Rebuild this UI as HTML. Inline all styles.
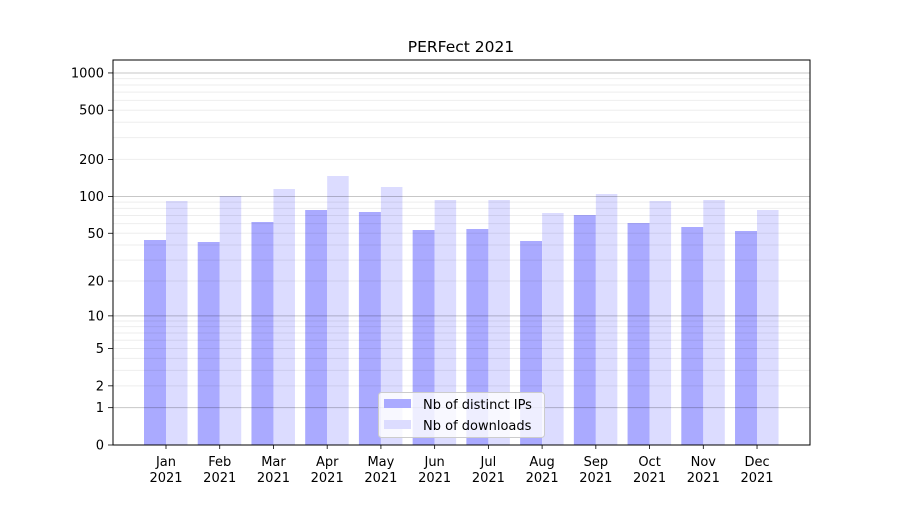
<!DOCTYPE html>
<html><head><meta charset="utf-8"><style>
html,body{margin:0;padding:0;background:#fff;}
svg text{font-family:"DejaVu Sans","Liberation Sans",sans-serif;fill:#000;}
</style></head><body>
<svg id="s" width="900" height="500" xmlns="http://www.w3.org/2000/svg"></svg>
<script>
var s=document.getElementById('s'),h='';
function Y(v){return 445-124*Math.log10(1+v);}
var dark=[240,242,222,210,212,230,229,241,215,223,227,231];
var light=[201,196,189,176,187,200,200,213,194,201,200,210];
var mon=['Jan','Feb','Mar','Apr','May','Jun','Jul','Aug','Sep','Oct','Nov','Dec'];
for(var i=0;i<12;i++){
 var c=166+i*53.73;
 h+='<rect x="'+(c-22)+'" y="'+dark[i]+'" width="22" height="'+(445-dark[i])+'" fill="#aaaaff"/>';
 h+='<rect x="'+c+'" y="'+light[i]+'" width="21.5" height="'+(445-light[i])+'" fill="#dcdcff"/>';
 h+='<line x1="'+c+'" x2="'+c+'" y1="445" y2="449" stroke="#000" stroke-width="0.8"/>';
 h+='<text x="'+c+'" y="466" font-size="13" text-anchor="middle">'+mon[i]+'</text>';
 h+='<text x="'+c+'" y="482" font-size="13" text-anchor="middle">2021</text>';
}
var minors=[2,3,4,5,6,7,8,9,20,30,40,50,60,70,80,90,200,300,400,500,600,700,800,900];
minors.forEach(function(v){var y=Y(v);h+='<line x1="113" x2="810" y1="'+y+'" y2="'+y+'" stroke="#000" stroke-opacity="0.07" stroke-width="1"/>';});
[1,10,100,1000].forEach(function(v){var y=Y(v);h+='<line x1="113" x2="810" y1="'+y+'" y2="'+y+'" stroke="#000" stroke-opacity="0.22" stroke-width="1"/>';});
[[0,'0'],[1,'1'],[2,'2'],[5,'5'],[10,'10'],[20,'20'],[50,'50'],[100,'100'],[200,'200'],[500,'500'],[1000,'1000']].forEach(function(t){
 var y=Y(t[0]);h+='<line x1="108" x2="113" y1="'+y+'" y2="'+y+'" stroke="#000" stroke-width="0.8"/>';
 h+='<text x="104" y="'+(y+4.5)+'" font-size="13" text-anchor="end">'+t[1]+'</text>';});
h+='<rect x="113" y="60" width="697" height="385" fill="none" stroke="#000" stroke-width="1"/>';
h+='<text x="461" y="52" font-size="15.5" text-anchor="middle">PERFect 2021</text>';
h+='<rect x="378.5" y="392.5" width="166" height="45" rx="3" fill="#fff" fill-opacity="0.8" stroke="#ccc"/>';
h+='<rect x="384" y="399" width="27" height="9" fill="#aaaaff"/>';
h+='<rect x="384" y="420" width="27" height="9" fill="#dcdcff"/>';
h+='<text x="423" y="409" font-size="13">Nb of distinct IPs</text>';
h+='<text x="423" y="430" font-size="13">Nb of downloads</text>';
s.innerHTML=h;
</script>
</body></html>
